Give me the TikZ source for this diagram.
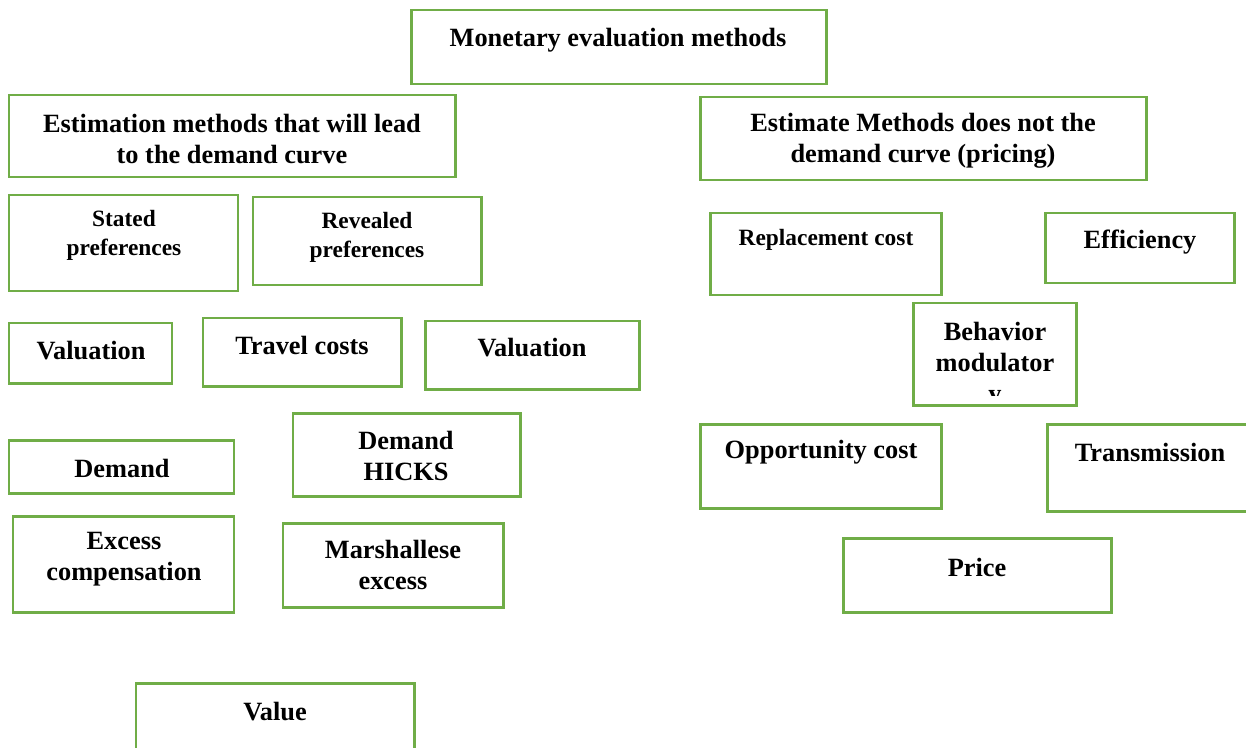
\documentclass[tikz,border=0pt]{standalone}
\usepackage{fontspec}
\setmainfont{Liberation Serif}
\usepackage{tikz}
\definecolor{boxgreen}{HTML}{70AD47}
\tikzset{
    boxline/.style={draw=boxgreen, line width=1.7pt},
    boxtext/.style={align=center, font=\fontsize{15}{17.6}\selectfont\bfseries},
    smalltext/.style={align=center, font=\fontsize{13.3}{16.5}\selectfont\bfseries}
}
% frame from (#2) to (#3), text (#5) centred at (#4) in style #6
\newcommand{\methodbox}[6]{
    \draw[boxline] (#2) rectangle (#3);
    \node[#6] (#1) at (#4) {#5};
}

\begin{document}
\begin{tikzpicture}[x=0.02cm, y=-0.02cm]
        % fix the page size
        \useasboundingbox (0, 0) rectangle (1246, 747);
        \clip (0, 0) rectangle (1246, 747);
        % draw top box
        \methodbox{monetary}{411, 10}{826, 84}{618, 40}{Monetary evaluation methods}{boxtext}
        % draw left branch
        \methodbox{demandcurve}{9, 95}{455, 177}{232, 139}{Estimation methods that will lead\\to the demand curve}{boxtext}
        \methodbox{stated}{9, 195}{238, 291}{124, 235}{Stated\\preferences}{smalltext}
        \methodbox{revealed}{253, 197}{481, 285}{367, 237}{Revealed\\preferences}{smalltext}
        \methodbox{valuationl}{9, 323}{172, 383}{91, 351}{Valuation}{boxtext}
        \methodbox{travel}{203, 318}{401, 386}{302, 345}{Travel costs}{boxtext}
        \methodbox{valuationr}{425, 321}{639, 389}{532, 348}{Valuation}{boxtext}
        \methodbox{demand}{9, 440}{234, 493}{122, 468}{Demand}{boxtext}
        \methodbox{hicks}{293, 413}{520, 496}{406, 456}{Demand\\HICKS}{boxtext}
        \methodbox{compensation}{13, 516}{234, 612}{124, 559}{Excess\\compensation}{boxtext}
        \methodbox{marshall}{283, 523}{503, 607}{393, 565}{Marshallese\\excess}{boxtext}
        \methodbox{value}{136, 683}{414, 770}{275, 712}{Value}{boxtext}
        % draw right branch
        \methodbox{pricing}{700, 97}{1146, 180}{923, 141}{Estimate Methods does not the\\demand curve (pricing)}{boxtext}
        \methodbox{replacement}{710, 213}{941, 295}{826, 240}{Replacement cost}{smalltext}
        \methodbox{efficiency}{1045, 213}{1234, 283}{1140, 242}{Efficiency}{boxtext}
        % behavior box, its last letter is cut by the frame
        \begin{scope}
            \clip (913, 303) rectangle (1076, 395);
            \node[boxtext] (behavior) at (995, 365) {Behavior\\modulator\\y};
        \end{scope}
        \draw[boxline] (913, 303) rectangle (1076, 405);
        \methodbox{opportunity}{700, 424}{941, 508}{821, 452}{Opportunity cost}{boxtext}
        \methodbox{transmission}{1047, 424}{1270, 511}{1150, 452}{Transmission}{boxtext}
        \methodbox{price}{843, 538}{1111, 612}{977, 567}{Price}{boxtext}
    \end{tikzpicture}
\end{document}
